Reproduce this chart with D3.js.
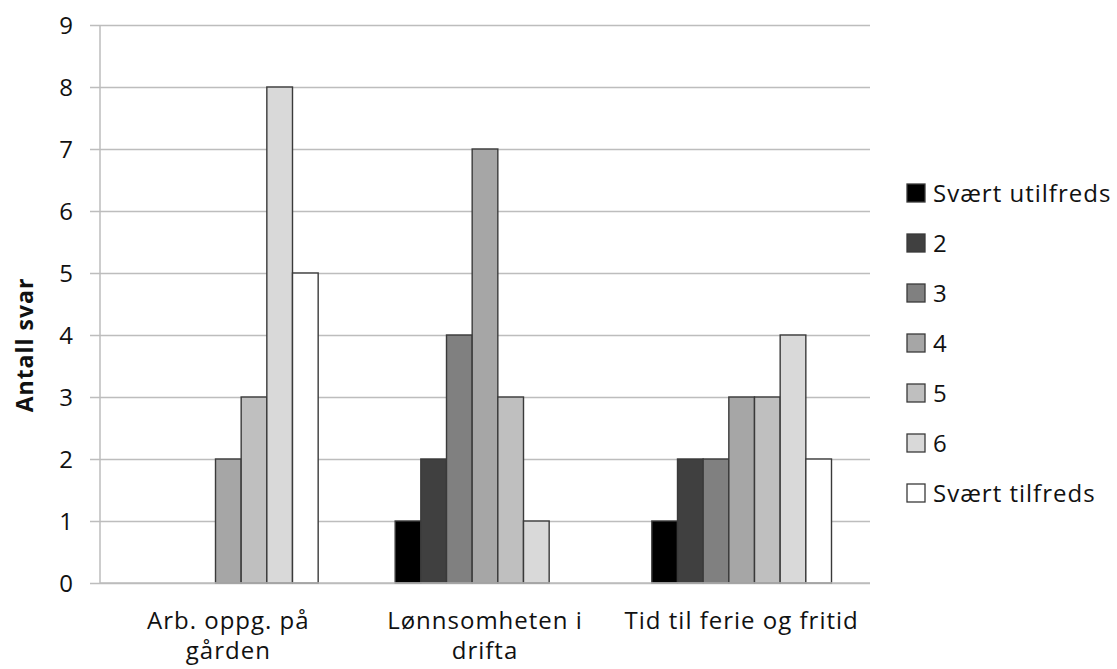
<!DOCTYPE html>
<html><head><meta charset="utf-8">
<script src="https://cdn.jsdelivr.net/npm/d3@7"></script>
<style>body{margin:0;background:#fff}svg{font-family:"Open Sans",sans-serif}</style>
</head><body>
<svg id="c" width="1117" height="669"></svg>
<script>
const categories = [["Arb. oppg. på","gården"],["Lønnsomheten i","drifta"],["Tid til ferie og fritid"]];
const seriesNames = ["Svært utilfreds","2","3","4","5","6","Svært tilfreds"];
const seriesColors = ["#000000","#404040","#808080","#a6a6a6","#bfbfbf","#d9d9d9","#ffffff"];
const valuesArb = [0,0,0,2,3,8,5];
const valuesLonn = [1,2,4,7,3,1,0];
const valuesTid = [1,2,2,3,3,4,2];
const yTicks = [0,1,2,3,4,5,6,7,8,9];
const yTitle = "Antall svar";

const data = [valuesArb, valuesLonn, valuesTid];
const svg = d3.select("#c");
const mL = 100, mR = 870, mT = 25, mB = 583;

const x0 = d3.scaleBand().domain(d3.range(categories.length)).range([mL, mR]).paddingInner(0).paddingOuter(0);
const gw = x0.bandwidth();
const bw = gw / 10;
const x1 = d3.scaleBand().domain(d3.range(seriesNames.length)).range([1.5*bw, gw - 1.5*bw]).padding(0);
const y = d3.scaleLinear().domain([0, 9]).range([mB, mT]);

// gridlines + ticks
const ga = svg.append("g").attr("transform", `translate(${mL},0)`)
  .call(d3.axisLeft(y).tickValues(yTicks).tickSize(-(mR-mL)).tickPadding(27).tickFormat(d3.format("d")));
ga.select(".domain").remove();
ga.selectAll(".tick line").attr("stroke", "#bdbdbd").attr("stroke-width", 1.5).attr("x1", -10);
ga.selectAll(".tick text").attr("font-size", 24).attr("fill", "#111").attr("font-family", "Open Sans").attr("dy", "0.36em");

// y axis line
svg.append("line").attr("x1", mL).attr("x2", mL).attr("y1", mT).attr("y2", mB)
  .attr("stroke", "#bdbdbd").attr("stroke-width", 1.5);

// bars
data.forEach((vals, ci) => {
  const g = svg.append("g").attr("transform", `translate(${x0(ci)},0)`);
  g.selectAll("rect").data(vals.map((v,i)=>({v,i})).filter(d=>d.v>0)).join("rect")
    .attr("x", d => x1(d.i)).attr("width", x1.bandwidth())
    .attr("y", d => y(d.v)).attr("height", d => y(0) - y(d.v))
    .attr("fill", d => seriesColors[d.i]).attr("stroke", "#3a3a3a").attr("stroke-width", 1.4);
});

// x axis line
svg.append("line").attr("x1", mL).attr("x2", mR).attr("y1", mB).attr("y2", mB)
  .attr("stroke", "#bdbdbd").attr("stroke-width", 1.5);

// category labels
categories.forEach((lines, ci) => {
  const t = svg.append("text").attr("text-anchor", "middle").attr("font-size", 24).attr("fill", "#111")
    .attr("letter-spacing", 1).attr("x", x0(ci) + gw/2).attr("y", 629);
  lines.forEach((l, k) => t.append("tspan").attr("x", x0(ci) + gw/2).attr("dy", k ? 30 : 0).text(l));
});

// y title
svg.append("text").attr("transform", `translate(33,345) rotate(-90)`)
  .attr("text-anchor", "middle").attr("font-size", 23).attr("font-weight", "bold").attr("letter-spacing", 1)
  .attr("fill", "#111").text(yTitle);

// legend
const lg = svg.append("g");
seriesNames.forEach((n, i) => {
  const cy = 193 + i * 50;
  lg.append("rect").attr("x", 907).attr("y", cy - 9).attr("width", 18).attr("height", 18)
    .attr("fill", seriesColors[i]).attr("stroke", "#3a3a3a").attr("stroke-width", 1.3);
  lg.append("text").attr("x", 933).attr("y", cy).attr("dy", "0.36em").attr("font-size", 24)
    .attr("letter-spacing", 1).attr("fill", "#111").text(n);
});
</script>
</body></html>
